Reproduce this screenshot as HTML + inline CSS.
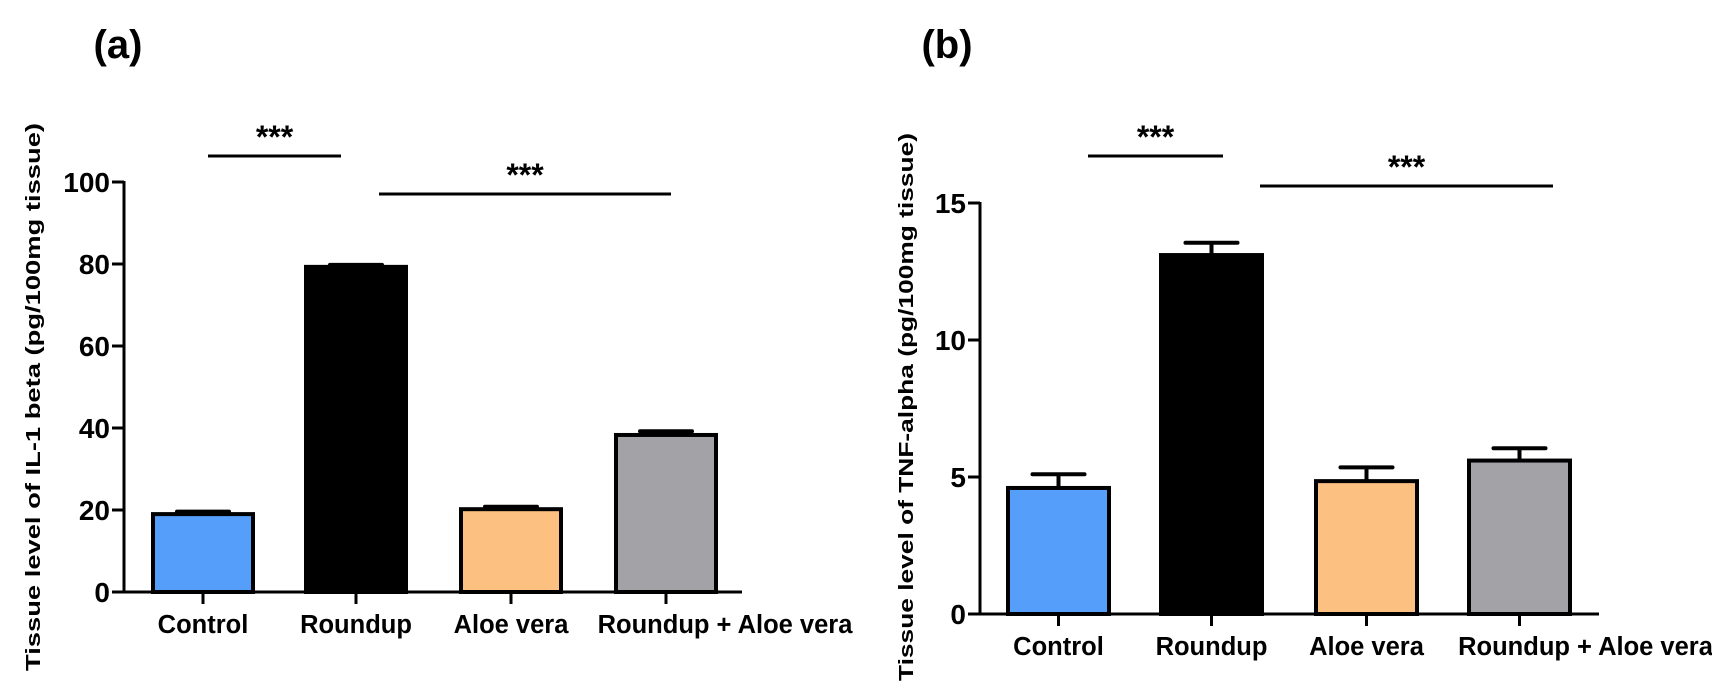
<!DOCTYPE html>
<html><head><meta charset="utf-8"><style>
html,body{margin:0;padding:0;background:#fff;}
svg{display:block;font-family:"Liberation Sans",Arial,sans-serif;font-weight:bold;}
</style></head><body>
<svg id="chart" width="1712" height="696" viewBox="0 0 1712 696" xmlns="http://www.w3.org/2000/svg"></svg>
<script>
const categories = ["Control", "Roundup", "Aloe vera", "Roundup + Aloe vera"];
const colors = ["#559ffa", "#000000", "#fcc081", "#a3a3a7"];
const il1Values = [19.0, 79.3, 20.2, 38.3];
const il1Errors = [0.6, 0.5, 0.6, 0.9];
const il1Ticks = [0, 20, 40, 60, 80, 100];
const tnfValues = [4.6, 13.1, 4.85, 5.6];
const tnfErrors = [0.5, 0.45, 0.5, 0.45];
const tnfTicks = [0, 5, 10, 15];

const NS = "http://www.w3.org/2000/svg";
const svg = document.getElementById("chart");
function mk(tag, attrs, parent) {
  const e = document.createElementNS(NS, tag);
  for (const k in attrs) e.setAttribute(k, attrs[k]);
  (parent || svg).appendChild(e);
  return e;
}

function panel(cfg) {
  const g = mk("g", {});
  
  
  const y = v => cfg.y0 - (v / cfg.max) * (cfg.y0 - cfg.yTop);
  const pl = mk("text", {x: cfg.labelX, y: 58, "font-size": 40, "text-anchor": "middle"}, g);
  pl.textContent = cfg.label;
  
  
  const yt = mk("text", {x: 0, y: 0, "font-size": 20, "text-anchor": "middle",
    transform: `translate(${cfg.titleX},${cfg.titleY}) rotate(-90)`, textLength: 548, lengthAdjust: "spacingAndGlyphs"}, g);
  yt.textContent = cfg.title;
  
  
  categories.forEach((c, i) => {
    const x0 = cfg.barX[i], w = cfg.barW;
    const cx = x0 + w / 2;
    const top = y(cfg.values[i]), et = y(cfg.values[i] + cfg.errors[i]);
    const eb = mk("line", {x1: cx, x2: cx, y1: top, y2: et, stroke: "#000", "stroke-width": 4}, g);
    
    
    const cap = mk("line", {x1: cx - 26, x2: cx + 26, y1: et, y2: et, stroke: "#000", "stroke-width": 4, "stroke-linecap": "round"}, g);
    
    
    const r = mk("rect", {x: x0 + 2, y: top, width: w - 4, height: cfg.y0 - top, fill: colors[i], stroke: "#000", "stroke-width": 4}, g);
    
    
    const tk = mk("line", {x1: cx, x2: cx, y1: cfg.y0, y2: cfg.y0 + 12, stroke: "#000", "stroke-width": 3}, g);
    
    
    const lb = mk("text", {x: cx + (i === 3 ? cfg.lastShift : 0), y: cfg.y0 + 41, "font-size": 25.5, "text-anchor": "middle"}, g);
    lb.textContent = c;
    
    
  });
  const ya = mk("line", {x1: cfg.axisX, x2: cfg.axisX, y1: cfg.yTop - 1, y2: cfg.y0 + 1.5, stroke: "#000", "stroke-width": 3}, g);
  
  
  const xa = mk("line", {x1: cfg.axisX - 1.5, x2: cfg.xEnd, y1: cfg.y0, y2: cfg.y0, stroke: "#000", "stroke-width": 3}, g);
  
  
  cfg.ticks.forEach(t => {
    const yy = y(t);
    const tl = mk("line", {x1: cfg.axisX - 12, x2: cfg.axisX, y1: yy, y2: yy, stroke: "#000", "stroke-width": 3}, g);
    
    
    const tt = mk("text", {x: cfg.axisX - 14, y: yy + 10, "font-size": 28, "text-anchor": "end"}, g);
    tt.textContent = t;
    
    
  });
  cfg.sig.forEach((s, k) => {
    const l = mk("line", {x1: s[0], x2: s[1], y1: s[2], y2: s[2], stroke: "#000", "stroke-width": 3}, g);
    
    
    const st = mk("text", {x: (s[0] + s[1]) / 2, y: s[2] - 8, "font-size": 32, "text-anchor": "middle"}, g);
    st.textContent = "***";
    
    
  });
}

panel({name: "panel-a-il1-beta", label: "(a)", labelX: 118,
  title: "Tissue level of IL-1 beta (pg/100mg tissue)", titleX: 40, titleY: 397,
  axisX: 124, xEnd: 742, y0: 592, yTop: 182, max: 100, ticks: il1Ticks,
  values: il1Values, errors: il1Errors, barX: [151, 304, 459, 614], barW: 104,
  lastShift: 59, sig: [[208, 341, 156], [379, 671, 194]]});

panel({name: "panel-b-tnf-alpha", label: "(b)", labelX: 947,
  title: "Tissue level of TNF-alpha (pg/100mg tissue)", titleX: 913, titleY: 407,
  axisX: 980, xEnd: 1599, y0: 614, yTop: 203, max: 15, ticks: tnfTicks,
  values: tnfValues, errors: tnfErrors, barX: [1006, 1159, 1314, 1467], barW: 105,
  lastShift: 66, sig: [[1088, 1223, 156], [1260, 1553, 186]]});
</script>
</body></html>
